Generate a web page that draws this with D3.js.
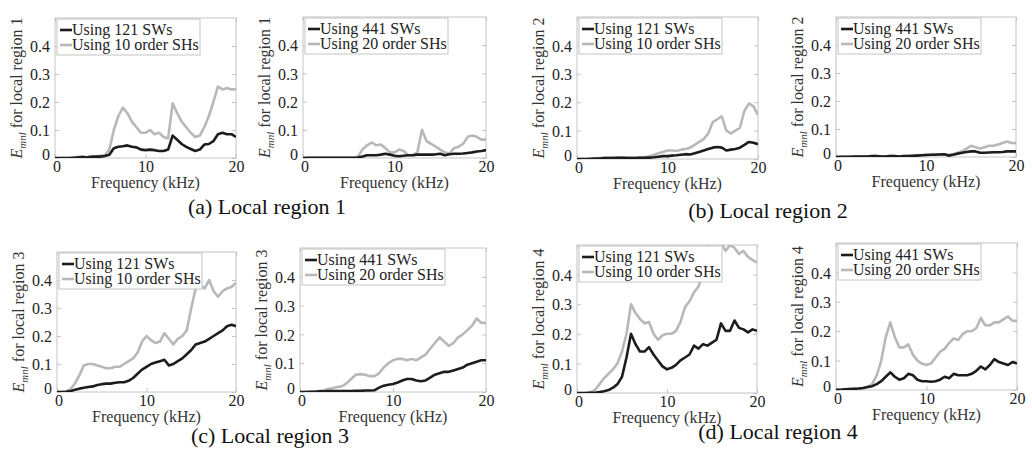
<!DOCTYPE html>
<html>
<head>
<meta charset="UTF-8">
<title>Local region errors</title>
<style>
  body { margin: 0; background: #fff; }
  svg text { font-family: "Liberation Serif", "Times New Roman", Times, "DejaVu Serif", serif !important; }
</style>
</head>
<body>
<script src="https://cdn.jsdelivr.net/npm/d3@7"></script>
<script>
// frequency grid (kHz), 0.5 kHz steps
var freq = d3.range(0, 20.5, 0.5);
var yTicks = [0, 0.1, 0.2, 0.3, 0.4];
var xTicks = [0, 10, 20];

var captions = ["(a) Local region 1", "(b) Local region 2", "(c) Local region 3", "(d) Local region 4"];
var legendLeft = ["Using 121 SWs", "Using 10 order SHs"];
var legendRight = ["Using 441 SWs", "Using 20 order SHs"];

// region 1
var r1_sw121 = [0,0,0,0,0.001,0.002,0.003,0.002,0.004,0.005,0.005,0.007,0.012,0.035,0.04,0.042,0.045,0.04,0.038,0.03,0.028,0.03,0.028,0.025,0.025,0.03,0.08,0.065,0.05,0.04,0.032,0.025,0.03,0.048,0.05,0.06,0.085,0.09,0.085,0.085,0.075];
var r1_sh10  = [0,0,0,0,0.001,0.003,0.005,0.003,0.006,0.006,0.008,0.01,0.03,0.1,0.15,0.18,0.16,0.13,0.11,0.09,0.09,0.1,0.085,0.09,0.075,0.07,0.195,0.16,0.13,0.11,0.09,0.075,0.08,0.11,0.15,0.2,0.255,0.245,0.25,0.245,0.245];
var r1_sw441 = [0,0.001,0.001,0.001,0.001,0.001,0.001,0.001,0.001,0.001,0.001,0.001,0.002,0.005,0.01,0.01,0.01,0.012,0.015,0.012,0.008,0.006,0.008,0.01,0.01,0.012,0.012,0.012,0.012,0.013,0.015,0.01,0.013,0.015,0.015,0.016,0.018,0.02,0.023,0.025,0.028];
var r1_sh20  = [0,0.001,0.001,0.001,0.001,0.001,0.001,0.001,0.001,0.001,0.001,0.001,0.005,0.03,0.045,0.055,0.045,0.048,0.035,0.02,0.02,0.03,0.025,0.01,0.01,0.02,0.1,0.06,0.05,0.04,0.03,0.02,0.015,0.035,0.04,0.05,0.075,0.08,0.075,0.065,0.065];
// region 2
var r2_sw121 = [0,0,0,0.001,0.002,0.002,0.003,0.003,0.003,0.004,0.004,0.003,0.003,0.003,0.004,0.004,0.005,0.006,0.008,0.01,0.01,0.012,0.013,0.015,0.017,0.016,0.02,0.025,0.03,0.035,0.04,0.042,0.04,0.03,0.033,0.035,0.04,0.05,0.06,0.057,0.052];
var r2_sh10  = [0,0,0,0.001,0.002,0.003,0.004,0.004,0.005,0.005,0.006,0.005,0.005,0.005,0.006,0.007,0.01,0.015,0.02,0.025,0.03,0.03,0.028,0.033,0.035,0.04,0.05,0.06,0.07,0.09,0.13,0.14,0.15,0.1,0.09,0.1,0.11,0.17,0.195,0.185,0.155];
var r2_sw441 = [0,0.001,0.001,0.001,0.002,0.002,0.002,0.002,0.003,0.003,0.002,0.002,0.003,0.003,0.002,0.003,0.003,0.004,0.005,0.006,0.007,0.008,0.008,0.009,0.01,0.005,0.008,0.012,0.015,0.018,0.02,0.02,0.015,0.015,0.016,0.017,0.017,0.018,0.02,0.02,0.02];
var r2_sh20  = [0,0.001,0.001,0.001,0.002,0.002,0.002,0.002,0.003,0.003,0.002,0.002,0.003,0.003,0.002,0.003,0.003,0.004,0.005,0.006,0.007,0.008,0.01,0.01,0.01,0.008,0.01,0.015,0.02,0.03,0.04,0.035,0.03,0.035,0.04,0.04,0.045,0.05,0.055,0.05,0.05];
// region 3
var r3_sw121 = [0,0,0.001,0.003,0.008,0.012,0.015,0.018,0.02,0.025,0.028,0.03,0.03,0.033,0.035,0.035,0.04,0.05,0.065,0.08,0.09,0.1,0.105,0.11,0.115,0.095,0.1,0.11,0.12,0.135,0.15,0.17,0.175,0.18,0.19,0.2,0.21,0.22,0.235,0.24,0.235];
var r3_sh10  = [0,0,0.002,0.01,0.03,0.06,0.095,0.1,0.1,0.095,0.09,0.085,0.085,0.09,0.09,0.1,0.11,0.12,0.14,0.18,0.2,0.185,0.175,0.18,0.21,0.19,0.17,0.19,0.2,0.22,0.3,0.37,0.38,0.37,0.4,0.36,0.34,0.36,0.37,0.375,0.39];
var r3_sw441 = [0,0,0.001,0.001,0.002,0.002,0.003,0.003,0.003,0.003,0.003,0.003,0.004,0.004,0.005,0.005,0.006,0.015,0.022,0.025,0.028,0.033,0.04,0.045,0.045,0.04,0.037,0.04,0.05,0.06,0.065,0.07,0.07,0.075,0.08,0.085,0.095,0.1,0.105,0.11,0.11];
var r3_sh20  = [0,0,0.001,0.002,0.003,0.006,0.01,0.013,0.017,0.02,0.03,0.045,0.06,0.062,0.06,0.055,0.055,0.065,0.085,0.1,0.11,0.115,0.115,0.11,0.115,0.11,0.12,0.13,0.15,0.17,0.19,0.175,0.16,0.17,0.19,0.2,0.215,0.23,0.255,0.24,0.24];
// region 4
var r4_sw121 = [0,0,0,0.001,0.001,0.003,0.006,0.01,0.018,0.03,0.055,0.12,0.2,0.165,0.14,0.14,0.155,0.13,0.11,0.09,0.08,0.085,0.095,0.11,0.12,0.13,0.16,0.15,0.165,0.16,0.17,0.18,0.235,0.21,0.21,0.245,0.22,0.215,0.205,0.215,0.21];
var r4_sh10  = [0,0,0.001,0.003,0.01,0.03,0.05,0.065,0.08,0.1,0.14,0.2,0.3,0.27,0.25,0.235,0.24,0.2,0.18,0.195,0.2,0.2,0.21,0.24,0.29,0.31,0.34,0.36,0.4,0.5,0.55,0.53,0.51,0.48,0.5,0.49,0.47,0.48,0.46,0.45,0.44];
var r4_sw441 = [0.001,0.001,0.002,0.003,0.004,0.005,0.007,0.01,0.013,0.02,0.03,0.045,0.06,0.045,0.035,0.04,0.055,0.05,0.035,0.03,0.03,0.028,0.03,0.035,0.045,0.04,0.055,0.05,0.05,0.05,0.055,0.065,0.08,0.07,0.085,0.105,0.095,0.09,0.085,0.095,0.09];
var r4_sh20  = [0.001,0.001,0.002,0.003,0.004,0.005,0.007,0.01,0.02,0.05,0.1,0.18,0.23,0.18,0.145,0.145,0.155,0.12,0.1,0.09,0.085,0.09,0.11,0.13,0.14,0.16,0.175,0.17,0.19,0.2,0.2,0.21,0.245,0.22,0.22,0.23,0.23,0.24,0.25,0.235,0.235];

var width = 1032, height = 454;
var svg = d3.select("body").append("svg")
    .attr("width", width)
    .attr("height", height);

// panel boxes: left, right, top, bottom
var panels = [
  {box: [55, 236, 18, 158],  region: 1, legend: legendLeft,  sw: r1_sw121, sh: r1_sh10},
  {box: [303, 486, 17, 158], region: 1, legend: legendRight, sw: r1_sw441, sh: r1_sh20},
  {box: [577, 758, 17, 159], region: 2, legend: legendLeft,  sw: r2_sw121, sh: r2_sh10},
  {box: [836, 1016, 17, 157], region: 2, legend: legendRight, sw: r2_sw441, sh: r2_sh20},
  {box: [57, 236, 252, 392], region: 3, legend: legendLeft,  sw: r3_sw121, sh: r3_sh10},
  {box: [300, 486, 248, 392], region: 3, legend: legendRight, sw: r3_sw441, sh: r3_sh20},
  {box: [577, 757, 245, 393], region: 4, legend: legendLeft,  sw: r4_sw121, sh: r4_sh10},
  {box: [836, 1017, 243, 390], region: 4, legend: legendRight, sw: r4_sw441, sh: r4_sh20}
];

var serif = "'Liberation Serif', 'Times New Roman', Times, 'DejaVu Serif', serif";
var boxColor = "#c4c4c4";
var darkLine = "#1c1c1c";
var greyLine = "#b8b8b8";

panels.forEach(function(p, k) {
  var x0 = p.box[0], x1 = p.box[1], y0 = p.box[2], y1 = p.box[3];
  var x = d3.scaleLinear().domain([0, 20]).range([x0, x1]);
  var y = d3.scaleLinear().domain([0, 0.5]).range([y1, y0]);
  var g = svg.append("g").attr("font-family", serif);

  g.append("clipPath").attr("id", "clip" + k)
    .append("rect").attr("x", x0).attr("y", y0).attr("width", x1 - x0).attr("height", y1 - y0);

  // box
  g.append("rect")
    .attr("x", x0).attr("y", y0)
    .attr("width", x1 - x0).attr("height", y1 - y0)
    .attr("fill", "none").attr("stroke", boxColor).attr("stroke-width", 1);

  // axes with inward ticks
  var fmt = function(d) { return d === 0 ? "0" : d3.format(".1f")(d); };
  var yl = g.append("g").attr("transform", "translate(" + x0 + ",0)")
    .call(d3.axisLeft(y).tickValues(yTicks).tickSize(-4).tickPadding(5).tickFormat(fmt));
  var yr = g.append("g").attr("transform", "translate(" + x1 + ",0)")
    .call(d3.axisRight(y).tickValues(yTicks).tickSize(-4).tickFormat(""));
  var xb = g.append("g").attr("transform", "translate(0," + y1 + ")")
    .call(d3.axisBottom(x).tickValues(xTicks).tickSize(-4).tickPadding(3).tickFormat(d3.format("d")));
  var xt = g.append("g").attr("transform", "translate(0," + y0 + ")")
    .call(d3.axisTop(x).tickValues(xTicks).tickSize(-4).tickFormat(""));
  [yl, yr, xb, xt].forEach(function(a) {
    a.attr("font-family", serif).attr("font-size", 16);
    a.select(".domain").remove();
    a.selectAll("line").attr("stroke", boxColor);
    a.selectAll("text").attr("fill", "#222");
  });
  yl.selectAll("text").attr("dy", "0.35em");
  yl.selectAll(".tick").filter(function(d) { return d === 0; }).select("text").attr("dy", "0.1em");
  xb.selectAll(".tick").filter(function(d) { return d === 0; }).select("text").attr("dx", "0.1em");

  // lines
  var line = d3.line()
    .x(function(d, i) { return x(freq[i]); })
    .y(function(d) { return y(d); });
  var lg = g.append("g").attr("clip-path", "url(#clip" + k + ")");
  lg.append("path").datum(p.sh)
    .attr("d", line).attr("fill", "none")
    .attr("stroke", greyLine).attr("stroke-width", 2.6).attr("stroke-linejoin", "round");
  lg.append("path").datum(p.sw)
    .attr("d", line).attr("fill", "none")
    .attr("stroke", darkLine).attr("stroke-width", 2.6).attr("stroke-linejoin", "round");

  // legend
  var lgx = x0 + 2, lgy = y0 + 1;
  var leg = g.append("g");
  leg.append("rect")
    .attr("x", lgx).attr("y", lgy)
    .attr("width", 143).attr("height", 36)
    .attr("fill", "#fff").attr("stroke", boxColor).attr("stroke-width", 1);
  [darkLine, greyLine].forEach(function(c, j) {
    var ly = lgy + 11 + j * 15;
    leg.append("line")
      .attr("x1", lgx + 3).attr("x2", lgx + 15)
      .attr("y1", ly).attr("y2", ly)
      .attr("stroke", c).attr("stroke-width", 2.6);
    leg.append("text")
      .attr("x", lgx + 15).attr("y", ly + 5)
      .attr("fill", "#222").attr("font-size", 16)
      .text(p.legend[j]);
  });

  // axis titles
  g.append("text")
    .attr("x", (x0 + x1) / 2).attr("y", y1 + 30)
    .attr("text-anchor", "middle").attr("fill", "#333")
    .attr("font-size", 16)
    .text("Frequency (kHz)");

  var yt = g.append("text")
    .attr("transform", "translate(" + (x0 - 33) + "," + ((y0 + y1) / 2) + ") rotate(-90)")
    .attr("text-anchor", "middle").attr("fill", "#333")
    .attr("font-size", 16);
  yt.append("tspan").attr("font-style", "italic").text("E");
  yt.append("tspan").attr("font-style", "italic").attr("font-size", 11).attr("dy", 4).text("mnl");
  yt.append("tspan").attr("dy", -4).text(" for local region " + p.region);
});

// sub-figure captions
var capPos = [[267, 214], [768, 218], [270, 443], [778, 439]];
captions.forEach(function(c, i) {
  svg.append("text")
    .attr("x", capPos[i][0]).attr("y", capPos[i][1])
    .attr("text-anchor", "middle").attr("fill", "#111")
    .attr("font-family", serif).attr("font-size", 22)
    .text(c);
});
</script>
</body>
</html>
